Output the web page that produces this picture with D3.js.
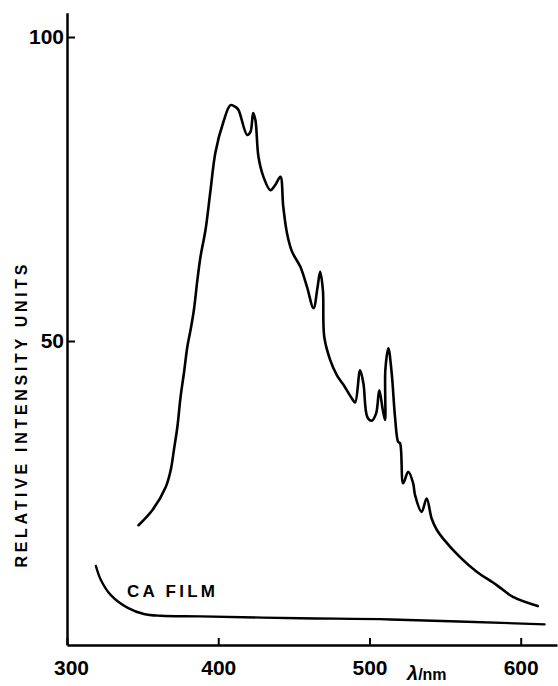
<!DOCTYPE html>
<html>
<head>
<meta charset="utf-8">
<script src="https://cdn.jsdelivr.net/npm/d3@7"></script>
<style>
  html, body { margin: 0; padding: 0; background: #fff; }
  svg { display: block; }
</style>
</head>
<body>
<svg id="chart" width="558" height="686"></svg>
<script>
// Emission spectrum (wavelength nm, relative intensity)
const spectrumWavelength = [347.3, 356.5, 365.3, 368.6, 370.7, 373.0, 375.1, 377.3, 379.6, 381.7,
  383.9, 386.2, 388.3, 391.6, 394.9, 398.2, 403.5, 408.1, 411.4, 413.4,
  419.1, 421.3, 423.1, 424.6, 426.6, 429.9, 434.5, 437.8, 441.1, 443.0,
  445.5, 448.8, 454.3, 458.7, 463.0, 465.7, 467.4, 469.2, 470.1, 474.0,
  478.4, 482.8, 488.3, 490.5, 493.8, 496.0, 498.6, 501.5, 504.4, 506.5,
  508.8, 510.3, 510.5, 512.5, 514.7, 516.9, 519.0, 520.2, 522.3, 525.6,
  528.9, 530.1, 534.5, 537.8, 541.1, 544.4, 548.7, 559.7, 570.7, 583.9,
  594.9, 611.3];
const spectrumIntensity = [19.7, 22.2, 26.0, 28.8, 32.1, 35.9, 40.8, 44.7, 49.1, 51.8,
  55.1, 60.0, 63.9, 68.3, 74.8, 81.1, 86.1, 88.8, 88.5, 88.0,
  83.9, 84.4, 87.5, 86.3, 80.3, 77.0, 74.8, 75.7, 77.0, 72.1,
  67.7, 64.7, 62.2, 58.9, 55.4, 58.9, 61.4, 58.4, 50.7, 46.9,
  44.4, 42.8, 40.6, 39.9, 45.2, 43.0, 37.5, 36.9, 38.1, 41.9,
  38.7, 37.0, 45.2, 48.8, 44.7, 37.5, 33.4, 33.2, 26.6, 28.5,
  26.6, 24.7, 21.9, 24.1, 20.8, 19.0, 17.5, 14.5, 12.1, 9.9,
  7.9, 6.4];
// CA film baseline
const filmWavelength = [319.1, 322.4, 329.0, 340.2, 350.8, 362.0, 388.3, 454.3, 514.2, 615.8];
const filmIntensity  = [13.0, 10.7, 8.2, 6.1, 5.1, 4.8, 4.7, 4.4, 4.2, 3.4];

const xTicks = [300, 400, 500, 600];
const yTicks = [50, 100];
const yTitle = "RELATIVE INTENSITY UNITS";
const filmLabel = "CA FILM";

const svg = d3.select("#chart");
const x = d3.scaleLinear().domain([300, 624]).range([67, 557]);
const y = d3.scaleLinear().domain([0, 104]).range([645, 12.7]);

const font = "'Liberation Sans', Arial, sans-serif";

// X axis
const gx = svg.append("g").attr("transform", `translate(0,${y(0)})`)
  .call(d3.axisBottom(x).tickValues(xTicks).tickFormat(d3.format("d"))
    .tickSizeInner(-7).tickSizeOuter(0).tickPadding(15));
gx.select(".domain").attr("stroke", "#000").attr("stroke-width", 2.5);
gx.selectAll(".tick line").attr("stroke", "#000").attr("stroke-width", 2);
gx.selectAll(".tick text").attr("font-family", font).attr("font-size", 21)
  .attr("font-weight", "bold").attr("fill", "#000")
  .attr("dx", d => d === 300 ? 4 : 0);

// Y axis
const gy = svg.append("g").attr("transform", `translate(${x(300)},0)`)
  .call(d3.axisLeft(y).tickValues(yTicks).tickFormat(d3.format("d"))
    .tickSizeInner(-8).tickSizeOuter(0).tickPadding(3));
gy.select(".domain").attr("stroke", "#000").attr("stroke-width", 2.5);
gy.selectAll(".tick line").attr("stroke", "#000").attr("stroke-width", 2);
gy.selectAll(".tick text").attr("font-family", font).attr("font-size", 21)
  .attr("font-weight", "bold").attr("fill", "#000");

// Curves
const line = d3.line().x(d => x(d[0])).y(d => y(d[1])).curve(d3.curveCatmullRom.alpha(0.5));
const spectrum = spectrumWavelength.map((w, i) => [w, spectrumIntensity[i]]);
const film = filmWavelength.map((w, i) => [w, filmIntensity[i]]);

svg.append("path").datum(spectrum).attr("d", line)
  .attr("fill", "none").attr("stroke", "#000").attr("stroke-width", 2.6)
  .attr("stroke-linejoin", "round").attr("stroke-linecap", "round");
svg.append("path").datum(film).attr("d", line)
  .attr("fill", "none").attr("stroke", "#000").attr("stroke-width", 2.4)
  .attr("stroke-linejoin", "round").attr("stroke-linecap", "round");

// Labels
svg.append("text").attr("x", 127).attr("y", 597)
  .attr("font-family", font).attr("font-size", 17).attr("font-weight", "bold")
  .attr("textLength", 88).attr("lengthAdjust", "spacing").text(filmLabel);

svg.append("text")
  .attr("transform", `translate(27,416) rotate(-90)`)
  .attr("text-anchor", "middle")
  .attr("font-family", font).attr("font-size", 16).attr("font-weight", "bold")
  .attr("textLength", 303).attr("lengthAdjust", "spacing").text(yTitle);

const xl = svg.append("text").attr("x", 407).attr("y", 680)
  .attr("font-family", font).attr("font-weight", "bold");
xl.append("tspan").attr("font-size", 20).attr("font-style", "italic").text("λ");
xl.append("tspan").attr("font-size", 16).text("/nm");
</script>
</body>
</html>
